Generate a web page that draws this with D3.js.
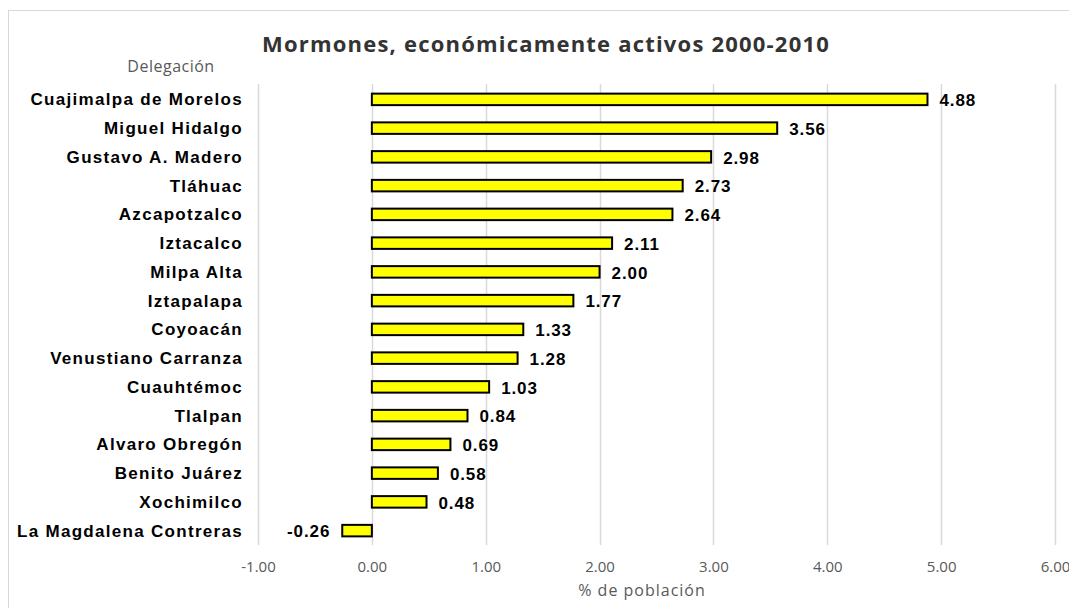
<!DOCTYPE html>
<meta charset="utf-8">
<head>
<style>
body { margin: 0; background: #fff; }
.cat { font-family: 'Liberation Sans', Arial, sans-serif; font-weight: bold; font-size: 17px; letter-spacing: 1.3px; fill: #000; }
.val { font-family: 'Liberation Sans', Arial, sans-serif; font-weight: bold; font-size: 17px; letter-spacing: 0.9px; fill: #000; }
.tick text { font-family: 'Open Sans', sans-serif; font-size: 15px; fill: #595959; }
</style>
<script src="https://cdnjs.cloudflare.com/ajax/libs/d3/7.8.5/d3.min.js"></script>
</head>
<body>
<svg id="chart"></svg>
<script>
var delegaciones = ["Cuajimalpa de Morelos", "Miguel Hidalgo", "Gustavo A. Madero", "Tláhuac",
  "Azcapotzalco", "Iztacalco", "Milpa Alta", "Iztapalapa", "Coyoacán", "Venustiano Carranza",
  "Cuauhtémoc", "Tlalpan", "Alvaro Obregón", "Benito Juárez", "Xochimilco", "La Magdalena Contreras"]
var valores = [4.88, 3.56, 2.98, 2.73, 2.64, 2.11, 2.00, 1.77, 1.33, 1.28, 1.03, 0.84, 0.69, 0.58, 0.48, -0.26]
var ticks = [-1, 0, 1, 2, 3, 4, 5, 6]

var width = 1069, height = 608

var svg = d3.select('#chart').attr('width', width).attr('height', height)

// chart border
svg.append('rect')
  .attr('x', 8.5).attr('y', 10.5)
  .attr('width', width + 10).attr('height', height + 10)
  .attr('fill', 'none').attr('stroke', '#d9d9d9')

var x = d3.scaleLinear().domain([-1, 6]).range([258, 1055])
var y = d3.scaleBand().domain(delegaciones).range([85, 545]).paddingInner(0.6).paddingOuter(0.3)

// gridlines
svg.selectAll('.grid')
  .data(ticks)
  .enter().append('line')
  .attr('x1', d => Math.round(x(d)) + 0.5).attr('x2', d => Math.round(x(d)) + 0.5)
  .attr('y1', 84).attr('y2', 545)
  .attr('stroke', '#d9d9d9').attr('stroke-width', 1.5)

// x axis (hyphen minus like the original)
var ax = svg.append('g')
  .attr('transform', 'translate(0,' + 558 + ')')
  .call(d3.axisBottom(x).tickValues(ticks).tickFormat(d => d.toFixed(2)).tickSize(0))
ax.select('.domain').remove()

// bars
svg.selectAll('.bar')
  .data(valores)
  .enter().append('rect')
  .attr('x', d => x(Math.min(0, d)))
  .attr('y', (d, i) => y(delegaciones[i]))
  .attr('width', d => Math.abs(x(d) - x(0)))
  .attr('height', y.bandwidth())
  .attr('fill', '#ffff00')
  .attr('stroke', '#000').attr('stroke-width', 2)

// value labels
svg.selectAll('.val')
  .data(valores)
  .enter().append('text')
  .attr('class', 'val')
  .attr('x', d => d < 0 ? x(d) - 12 : x(d) + 12)
  .attr('y', (d, i) => y(delegaciones[i]) + y.bandwidth() / 2)
  .attr('dy', '0.4em')
  .attr('text-anchor', d => d < 0 ? 'end' : 'start')
  .text(d => d.toFixed(2))

// category labels
svg.selectAll('.cat')
  .data(delegaciones)
  .enter().append('text')
  .attr('class', 'cat')
  .attr('x', 243)
  .attr('y', d => y(d) + y.bandwidth() / 2)
  .attr('dy', '0.36em')
  .attr('text-anchor', 'end')
  .text(d => d)

// title
svg.append('text')
  .attr('x', 546).attr('y', 52)
  .attr('text-anchor', 'middle')
  .style('font-family', "'Open Sans', sans-serif")
  .style('font-weight', 'bold')
  .style('font-size', '22px')
  .style('letter-spacing', '1.2px')
  .style('fill', '#333')
  .text('Mormones, económicamente activos 2000-2010')

svg.append('text')
  .attr('x', 171).attr('y', 72)
  .attr('text-anchor', 'middle')
  .style('font-family', "'Open Sans', sans-serif")
  .style('font-size', '16px')
  .style('letter-spacing', '0.5px')
  .style('fill', '#595959')
  .text('Delegación')

svg.append('text')
  .attr('x', 642).attr('y', 596)
  .attr('text-anchor', 'middle')
  .style('font-family', "'Open Sans', sans-serif")
  .style('font-size', '16px')
  .style('letter-spacing', '1px')
  .style('fill', '#595959')
  .text('% de población')
</script>
</body>
